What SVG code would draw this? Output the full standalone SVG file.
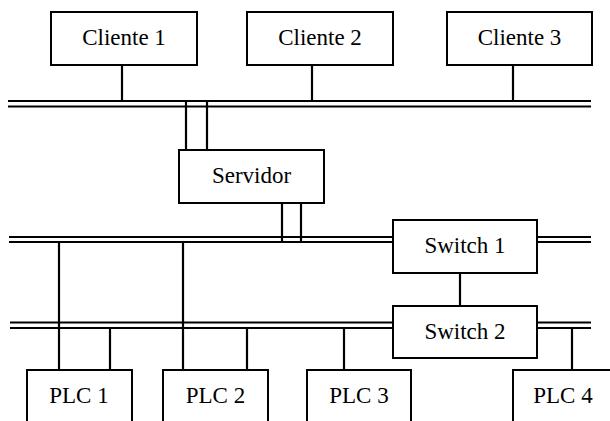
<svg xmlns="http://www.w3.org/2000/svg" width="610" height="421" viewBox="0 0 610 421">
<style>
.box{fill:#fff;stroke:#000;stroke-width:2}
.ln{stroke:#000;stroke-width:2.2;fill:none}
.t{font-family:"Liberation Serif","Times New Roman",serif;font-size:23px;fill:#000;text-anchor:middle}
</style>
<rect width="610" height="421" fill="#fff"/>
<g id="connectors">
<line class="ln" x1="8" y1="101" x2="591" y2="101"/>
<line class="ln" x1="8" y1="106.5" x2="591" y2="106.5"/>
<line class="ln" x1="9" y1="237" x2="393" y2="237"/>
<line class="ln" x1="9" y1="242" x2="393" y2="242"/>
<line class="ln" x1="537" y1="237" x2="591" y2="237"/>
<line class="ln" x1="537" y1="242" x2="591" y2="242"/>
<line class="ln" x1="10" y1="322.5" x2="393" y2="322.5"/>
<line class="ln" x1="10" y1="328" x2="393" y2="328"/>
<line class="ln" x1="537" y1="322.5" x2="591" y2="322.5"/>
<line class="ln" x1="537" y1="328" x2="591" y2="328"/>
<line class="ln" x1="122" y1="65" x2="122" y2="101"/>
<line class="ln" x1="312" y1="65" x2="312" y2="101"/>
<line class="ln" x1="513" y1="65" x2="513" y2="101"/>
<line class="ln" x1="186" y1="101" x2="186" y2="150"/>
<line class="ln" x1="207" y1="101" x2="207" y2="150"/>
<line class="ln" x1="282" y1="203" x2="282" y2="242"/>
<line class="ln" x1="301" y1="203" x2="301" y2="242"/>
<line class="ln" x1="460" y1="273" x2="460" y2="306"/>
<line class="ln" x1="59" y1="242" x2="59" y2="370"/>
<line class="ln" x1="183" y1="242" x2="183" y2="370"/>
<line class="ln" x1="110" y1="328" x2="110" y2="370"/>
<line class="ln" x1="247" y1="328" x2="247" y2="370"/>
<line class="ln" x1="344" y1="328" x2="344" y2="370"/>
<line class="ln" x1="572" y1="328" x2="572" y2="370"/>
</g>
<g id="cliente1"><rect class="box" x="51" y="12" width="146" height="53"/><text class="t" x="124" y="45">Cliente 1</text></g>
<g id="cliente2"><rect class="box" x="247" y="12" width="146" height="53"/><text class="t" x="320" y="45">Cliente 2</text></g>
<g id="cliente3"><rect class="box" x="447" y="12" width="145" height="53"/><text class="t" x="519.5" y="45">Cliente 3</text></g>
<g id="servidor"><rect class="box" x="179" y="150" width="145" height="53"/><text class="t" x="251.5" y="183">Servidor</text></g>
<g id="switch1"><rect class="box" x="393" y="220" width="144" height="53"/><text class="t" x="465" y="253">Switch 1</text></g>
<g id="switch2"><rect class="box" x="393" y="306" width="144" height="52"/><text class="t" x="465" y="339">Switch 2</text></g>
<g id="plc1"><rect class="box" x="27" y="370" width="105" height="60"/><text class="t" x="79" y="403">PLC 1</text></g>
<g id="plc2"><rect class="box" x="163" y="370" width="105" height="60"/><text class="t" x="215.5" y="403">PLC 2</text></g>
<g id="plc3"><rect class="box" x="307" y="370" width="104" height="60"/><text class="t" x="359" y="403">PLC 3</text></g>
<g id="plc4"><rect class="box" x="513" y="370" width="105" height="60"/><text class="t" x="563" y="403">PLC 4</text></g>
</svg>
